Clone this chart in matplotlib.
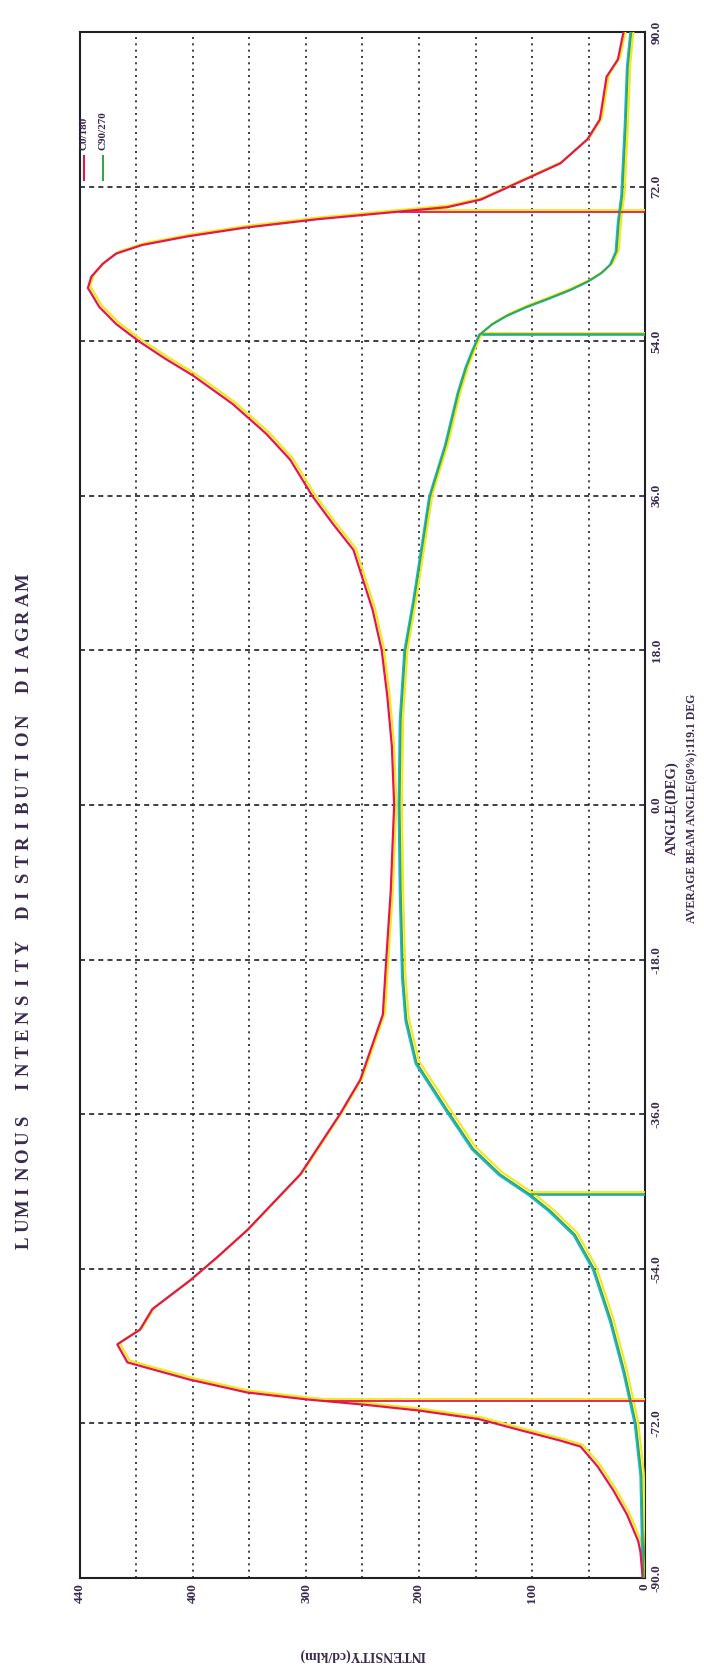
import numpy as np
import matplotlib
matplotlib.use("Agg")
import matplotlib.pyplot as plt
from matplotlib.transforms import offset_copy

# C0/180 curve (angle in deg, intensity in cd/klm)
c0_angle = [-90, -87, -85.7, -82.6, -79.8, -77, -74.7, -74, -72.8, -71.5, -70.5,
            -69.8, -69.2, -68.4, -66.9, -64.9, -62.8, -61.1, -58.7, -55.4, -52.7,
            -49.5, -43, -36, -32, -24.4, -18, -10, 0, 6.8, 12.6, 18, 22.7, 29.7,
            32.7, 35.9, 40.2, 43.2, 46.7, 50, 52, 54, 56, 58, 60.2, 61.5, 63,
            64.2, 65.2, 66.2, 67.2, 68.2, 69, 69.6, 70.5, 72, 73.5, 74.7, 77.5,
            79.8, 81.4, 84.8, 86.8, 90]
c0_value = [2, 4, 6, 16, 28, 42, 57, 75, 110, 147, 200,
            250, 300, 352, 403, 458, 467, 447, 436, 403, 379,
            352, 305, 270, 252, 232, 229, 225, 222, 224, 228, 233, 241, 258,
            276, 294, 314, 335, 365, 400, 425, 448, 468, 483, 493, 490, 480,
            468, 445, 405, 355, 290, 225, 175, 145, 120, 95, 75, 51,
            40, 38, 34, 24, 19]

# C90/270 curve
c90_angle = [-90, -84, -78, -72, -66, -60, -54, -50, -47.2, -45.3, -43, -40,
             -35.5, -30, -25, -20, -10, 0, 10, 18, 24, 30, 36, 42, 48, 51, 53,
             54.8, 56, 57, 58, 59, 60, 61, 62, 63, 64.5, 68, 71, 79, 86, 90]
c90_value = [1, 2, 3, 8, 18, 30, 45, 62, 84, 102, 128, 152,
             175, 202, 211, 214, 216, 217, 216, 212, 204, 197, 190, 176, 165, 158, 152,
             146, 135, 122, 105, 85, 66, 50, 38, 30, 25, 23, 20, 17, 15, 12]

# 50% beam angle markers
c0_beam = [-69.4, 69.1]
c90_beam = [-45.3, 54.8]

angle_ticks = np.arange(-90, 91, 18)
int_ticks = [500, 400, 300, 200, 100, 0]
int_labels = ['440', '400', '300', '200', '100', '0']

title = 'LUMINOUS INTENSITY DISTRIBUTION DIAGRAM'

RED = '#e3174f'
YEL = '#f0ea1c'
GRN = '#3aa548'
CYN = '#1ab4dc'
TXT = '#3a2a50'

plt.rcParams['font.family'] = ['Liberation Serif', 'DejaVu Serif']
plt.rcParams['font.weight'] = 'bold'

fig = plt.figure(figsize=(7.04, 16.70), dpi=100)
W, H = 704, 1670
ax = fig.add_axes([80 / W, 1 - 1578 / H, (645 - 80) / W, (1578 - 32) / H])

ax.set_xlim(500, 0)
ax.set_ylim(-90, 90)

yel_tr = offset_copy(ax.transData, fig=fig, x=2.2, y=1.8, units='dots')
cyn_tr = offset_copy(ax.transData, fig=fig, x=-1.2, y=-1.0, units='dots')

# beam angle marker lines, from 0 to the curve
for a in c0_beam:
    v = np.interp(a, c0_angle, c0_value)
    ax.plot([0, v], [a, a], color=YEL, lw=1.3, transform=yel_tr, zorder=3)
    ax.plot([0, v], [a, a], color=RED, lw=1.3, zorder=4)
for a in c90_beam:
    v = np.interp(a, c90_angle, c90_value)
    ax.plot([0, v], [a, a], color=YEL, lw=1.3, transform=yel_tr, zorder=3)
    ax.plot([0, v], [a, a], color=CYN, lw=1.3, transform=cyn_tr, zorder=3)
    ax.plot([0, v], [a, a], color=GRN, lw=1.1, zorder=4)

# curves (intensity on horizontal axis, angle on vertical axis)
ax.plot(c0_value, c0_angle, color=YEL, lw=1.6, transform=yel_tr, zorder=3)
ax.plot(c0_value, c0_angle, color=RED, lw=1.6, zorder=4)
ax.plot(c90_value, c90_angle, color=YEL, lw=1.5, transform=yel_tr, zorder=3)
ax.plot(c90_value, c90_angle, color=CYN, lw=1.5, transform=cyn_tr, zorder=3)
ax.plot(c90_value, c90_angle, color=GRN, lw=1.2, zorder=4)

# grid
for x in np.arange(50, 500, 50):
    ax.axvline(x, color='#1c1c30', lw=1.2, ls=(0, (1.2, 2.6)), zorder=1)
for y in angle_ticks[1:-1]:
    ax.axhline(y, color='#1c1c30', lw=1.2, ls=(0, (3, 2.5)), zorder=1)

for s in ax.spines.values():
    s.set_linewidth(1.5)
    s.set_color('#202028')

ax.set_xticks(int_ticks)
ax.set_xticklabels(int_labels, rotation=90, fontsize=9.5, color=TXT)
ax.yaxis.tick_right()
ax.set_yticks(angle_ticks)
ax.set_yticklabels([f'{v:.1f}' for v in angle_ticks], rotation=90,
                   fontsize=9.5, color=TXT, va='center')
ax.tick_params(length=0, pad=4)

# legend drawn rotated like the rest of the chart
leg = [('C0/180', RED, 84), ('C90/270', GRN, 103)]
for name, col, px in leg:
    xf = px / W
    fig.add_artist(plt.Line2D([xf, xf], [1 - 180 / H, 1 - 156 / H],
                              transform=fig.transFigure, color=col, lw=1.5))
    fig.text(xf, 1 - 150 / H, name, rotation=90, ha='center', va='bottom',
             fontsize=8, color=TXT)

# title, letter-spaced like the printed original
n = len(title)
y0, y1 = 1243, 582
for i, ch in enumerate(title):
    yy = y0 + (y1 - y0) * i / (n - 1)
    fig.text(24 / W, 1 - yy / H, ch, rotation=90, ha='center', va='center',
             fontsize=13.5, color=TXT)

fig.text(672 / W, 1 - 808 / H, 'ANGLE(DEG)', rotation=90, ha='center',
         va='center', fontsize=10.5, color=TXT)
fig.text(692 / W, 1 - 808 / H, 'AVERAGE BEAM ANGLE(50%):119.1 DEG', rotation=90,
         ha='center', va='center', fontsize=8.5, color=TXT)
fig.text(362 / W, 1 - 1655 / H, 'INTENSITY(cd/klm)', rotation=180, ha='center',
         va='center', fontsize=10, color=TXT)

fig.savefig('out.png', dpi=100)
